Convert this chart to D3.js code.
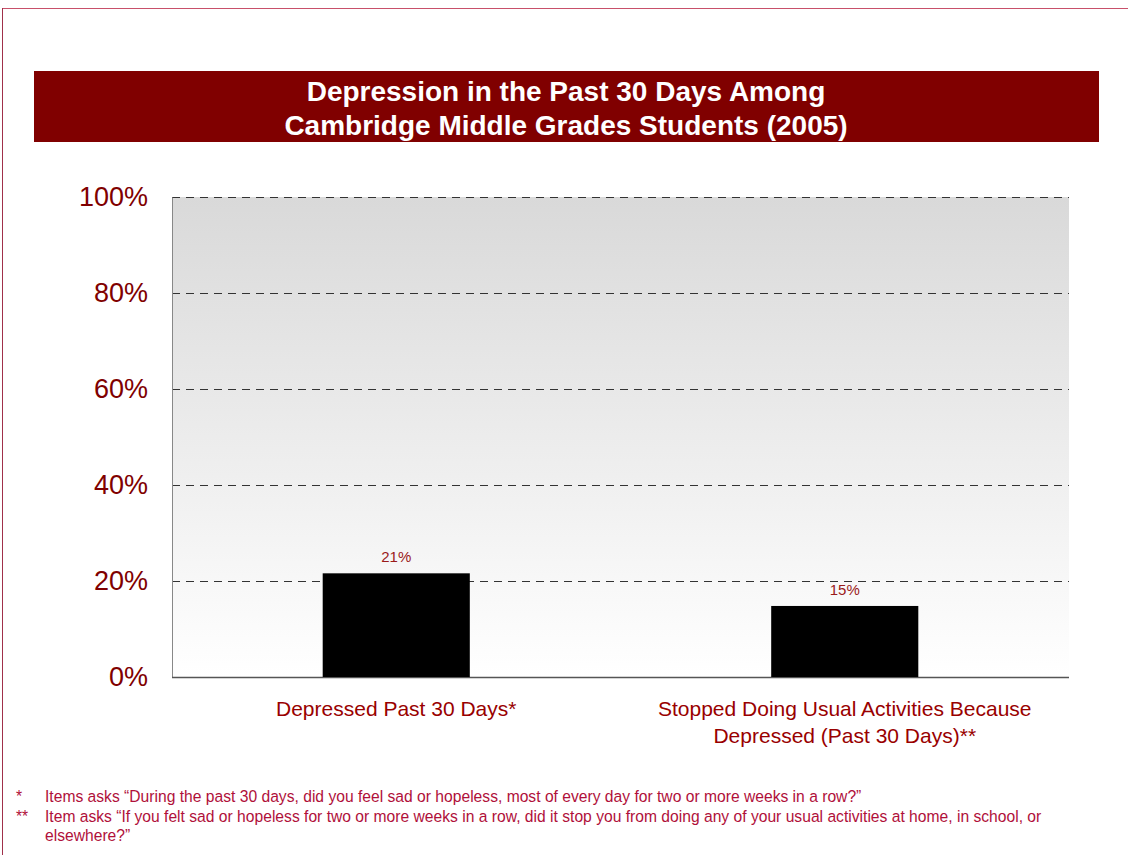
<!DOCTYPE html>
<html><head><meta charset="utf-8">
<script src="https://cdn.jsdelivr.net/npm/d3@7"></script>
<style>body{margin:0;background:#fff;}svg{display:block;font-family:Arial,"Liberation Sans",sans-serif;}</style>
</head><body>
<script>
const categories = [["Depressed Past 30 Days*"], ["Stopped Doing Usual Activities Because", "Depressed (Past 30 Days)**"]];
const values = [21.6, 14.8];
const valueLabels = ["21%", "15%"];
const yTicks = [0, 20, 40, 60, 80, 100];
const titleLines = ["Depression in the Past 30 Days Among", "Cambridge Middle Grades Students (2005)"];
const footnotes = [
  ["*", "Items asks \u201cDuring the past 30 days, did you feel sad or hopeless, most of every day for two or more weeks in a row?\u201d"],
  ["**", "Item asks \u201cIf you felt sad or hopeless for two or more weeks in a row, did it stop you from doing any of your usual activities at home, in school, or"],
  ["", "elsewhere?\u201d"]
];

const W = 1128, H = 855;
const svg = d3.select("body").append("svg").attr("width", W).attr("height", H);

// border
svg.append("line").attr("x1", 2).attr("x2", W).attr("y1", 8.5).attr("y2", 8.5).attr("stroke", "#c8506a").attr("stroke-width", 1);
svg.append("line").attr("x1", 2.5).attr("x2", 2.5).attr("y1", 8).attr("y2", H).attr("stroke", "#a0304a").attr("stroke-width", 1);

// title band
svg.append("rect").attr("x", 34).attr("y", 71).attr("width", 1065).attr("height", 71).attr("fill", "#800000");
svg.selectAll("text.title").data(titleLines).join("text").attr("class", "title")
  .attr("x", 566).attr("y", (d, i) => 101 + i * 34).attr("text-anchor", "middle")
  .attr("fill", "#fff").attr("font-weight", "bold").attr("font-size", 28).text(d => d);

const pLeft = 172, pRight = 1069, pTop = 197, pBottom = 677;
const defs = svg.append("defs");
const grad = defs.append("linearGradient").attr("id", "bg").attr("x1", 0).attr("x2", 0).attr("y1", 0).attr("y2", 1);
grad.append("stop").attr("offset", "0%").attr("stop-color", "#d9d9d9");
grad.append("stop").attr("offset", "100%").attr("stop-color", "#ffffff");
svg.append("rect").attr("x", pLeft).attr("y", pTop).attr("width", pRight - pLeft).attr("height", pBottom - pTop).attr("fill", "url(#bg)");

const y = d3.scaleLinear().domain([0, 100]).range([pBottom, pTop]);
const x = d3.scaleBand().domain(d3.range(categories.length)).range([pLeft, pRight]).padding(0);

// grid
svg.selectAll("line.grid").data(yTicks.filter(t => t > 0)).join("line").attr("class", "grid")
  .attr("x1", pLeft).attr("x2", pRight).attr("y1", d => Math.round(y(d)) + 0.5).attr("y2", d => Math.round(y(d)) + 0.5)
  .attr("stroke", "#333").attr("stroke-dasharray", "8,6").attr("stroke-width", 1);

// axes
const yAxis = svg.append("g").attr("transform", `translate(${pLeft},0)`).call(d3.axisLeft(y).tickValues(yTicks).tickSize(0).tickPadding(24).tickFormat(d => d + "%"));
yAxis.select(".domain").attr("stroke", "#888");
yAxis.selectAll("text").attr("font-size", 27).attr("fill", "#800000").attr("font-family", "Arial, 'Liberation Sans', sans-serif");
svg.append("line").attr("x1", pLeft).attr("x2", pRight).attr("y1", pBottom + 0.5).attr("y2", pBottom + 0.5).attr("stroke", "#555").attr("stroke-width", 1.5);

// bars
const bw = x.bandwidth() * 0.328;
svg.selectAll("rect.bar").data(values).join("rect").attr("class", "bar")
  .attr("x", (d, i) => x(i) + x.bandwidth() / 2 - bw / 2).attr("width", bw)
  .attr("y", d => y(d)).attr("height", d => pBottom - y(d)).attr("fill", "#000");
svg.selectAll("text.val").data(values).join("text").attr("class", "val")
  .attr("x", (d, i) => x(i) + x.bandwidth() / 2).attr("y", d => y(d) - 11)
  .attr("text-anchor", "middle").attr("font-size", 15).attr("fill", "#9a1a1a").text((d, i) => valueLabels[i]);

// category labels
categories.forEach((lines, i) => {
  svg.selectAll(null).data(lines).join("text")
    .attr("x", x(i) + x.bandwidth() / 2).attr("y", (d, j) => 716 + j * 27)
    .attr("text-anchor", "middle").attr("font-size", 21).attr("fill", "#990000").text(d => d);
});

// footnotes
footnotes.forEach((f, i) => {
  svg.append("text").attr("x", 16).attr("y", 802 + i * 19.5).attr("font-size", 15.65).attr("fill", "#b0103a").text(f[0]);
  svg.append("text").attr("x", 45).attr("y", 802 + i * 19.5).attr("font-size", 15.65).attr("fill", "#b0103a").text(f[1]);
});
</script>
</body></html>
